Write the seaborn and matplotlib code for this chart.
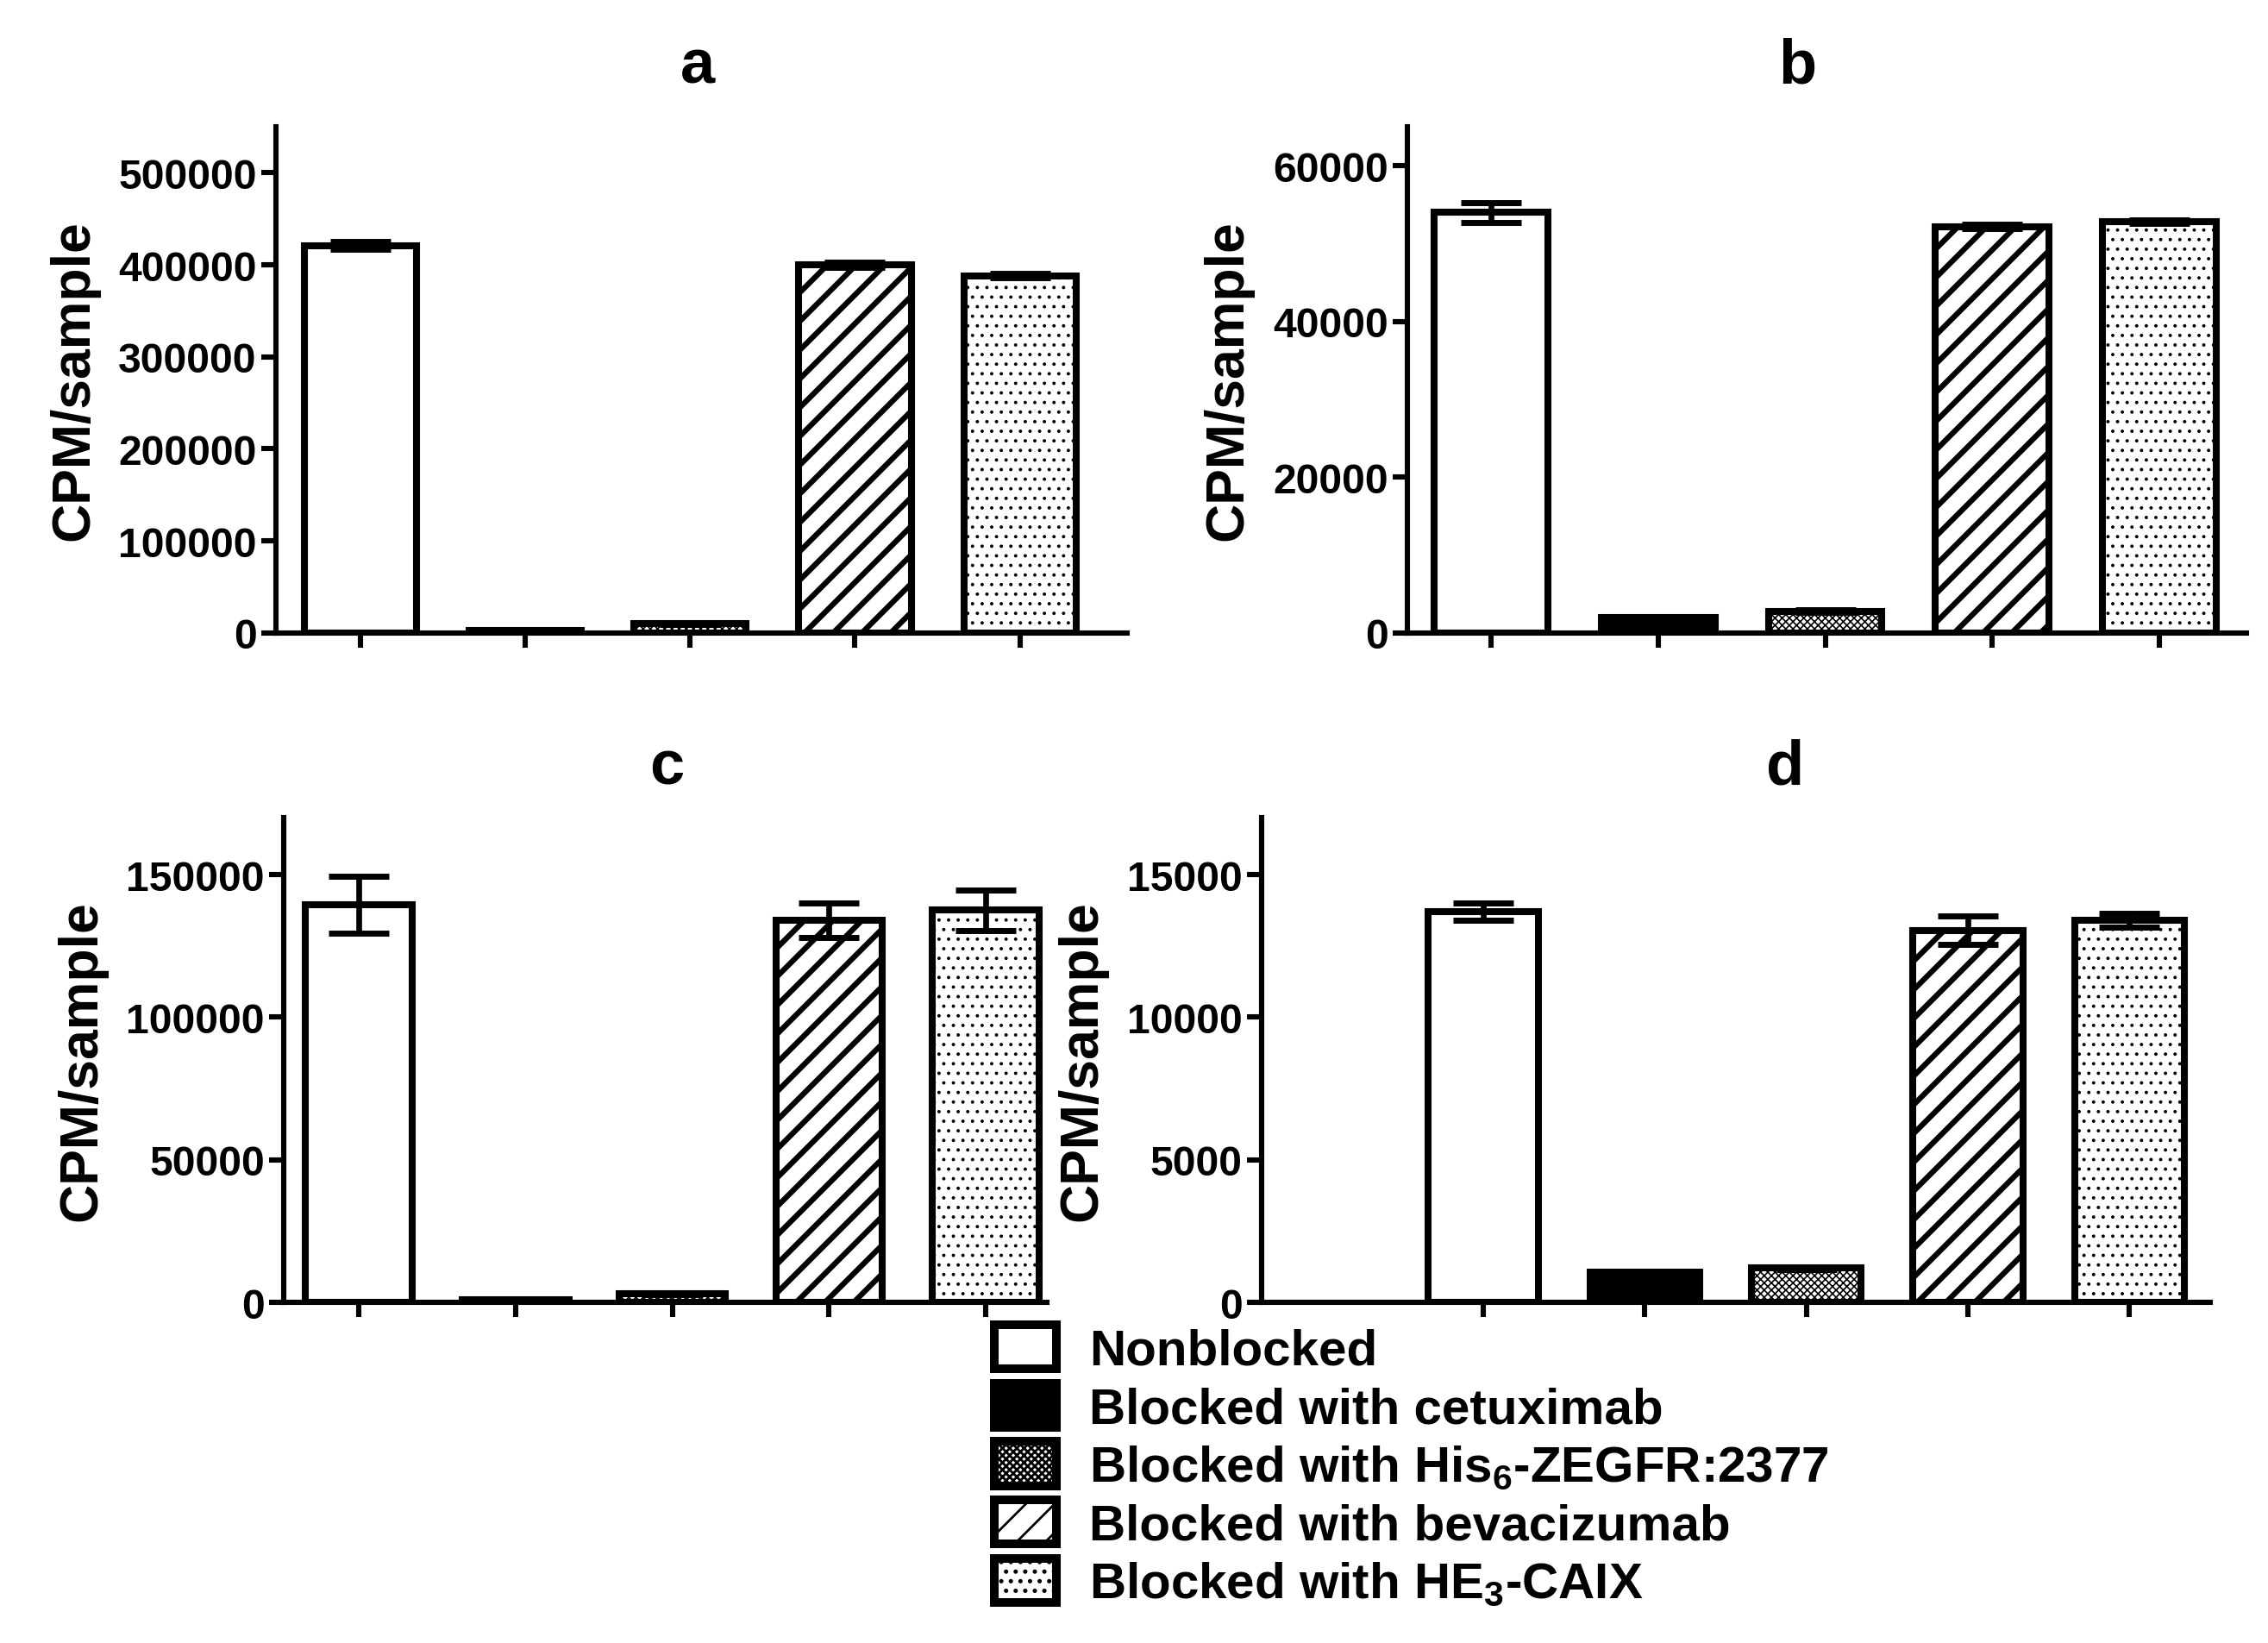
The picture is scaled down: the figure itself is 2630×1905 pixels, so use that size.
import matplotlib
matplotlib.use("Agg")
import matplotlib.pyplot as plt
import matplotlib.patches as mpatches
import seaborn as sns

# --- data ---
groups = ["Nonblocked", "Blocked with cetuximab", "Blocked with His6-ZEGFR:2377",
          "Blocked with bevacizumab", "Blocked with HE3-CAIX"]
legend_labels = ["Nonblocked", "Blocked with cetuximab",
                 r"Blocked with His$_6$-ZEGFR:2377",
                 "Blocked with bevacizumab", r"Blocked with HE$_3$-CAIX"]

vals_a = [421000, 2500, 10000, 400000, 388000]
errs_a = [4000, 500, 1000, 2500, 2500]
vals_b = [54000, 2000, 2800, 52200, 52800]
errs_b = [1300, 100, 150, 300, 250]
vals_c = [139500, 1000, 3000, 134000, 137500]
errs_c = [10000, 200, 300, 6000, 7000]
vals_d = [13700, 1050, 1200, 13050, 13400]
errs_d = [300, 30, 40, 500, 250]

ticks_a = [0, 100000, 200000, 300000, 400000, 500000]
ticks_b = [0, 20000, 40000, 60000]
ticks_c = [0, 50000, 100000, 150000]
ticks_d = [0, 5000, 10000, 15000]

titles = ["a", "b", "c", "d"]

# styling
faces = ["white", "black", "white", "white", "white"]
hatches = [None, None, "xxxxxxxx", "//", "..."]
hatch_lw = [1.0, 1.0, 0.6, 2.3, 0.6]

sns.set_style("ticks")
plt.rcParams["font.family"] = ["Liberation Sans", "DejaVu Sans"]
plt.rcParams["font.weight"] = "bold"
plt.rcParams["mathtext.fontset"] = "custom"
plt.rcParams["mathtext.rm"] = "Liberation Sans:bold"
plt.rcParams["mathtext.it"] = "Liberation Sans:bold"
plt.rcParams["mathtext.bf"] = "Liberation Sans:bold"
plt.rcParams["axes.linewidth"] = 2.2
plt.rcParams["axes.edgecolor"] = "black"
plt.rcParams["axes.labelcolor"] = "black"
plt.rcParams["text.color"] = "black"
plt.rcParams["xtick.color"] = "black"
plt.rcParams["ytick.color"] = "black"
plt.rcParams["hatch.color"] = "black"

fig = plt.figure(figsize=(2630 / 200, 1906 / 200), dpi=200)

boxes = [
    [0.1217, 0.6144, 0.3753, 0.3080],
    [0.6205, 0.6144, 0.3700, 0.3080],
    [0.1251, 0.2072, 0.3365, 0.2949],
    [0.5563, 0.2072, 0.4183, 0.2949],
]
ylims = [550000, 65000, 170000, 17000]
xlims = [(-0.51, 4.65), (-0.5, 4.52), (-0.48, 4.39), (-1.37, 4.5)]
title_pos = [(0.3076, 0.9496), (0.7924, 0.9496), (0.294, 0.5226), (0.787, 0.5226)]

panels = [(vals_a, errs_a, ticks_a), (vals_b, errs_b, ticks_b),
          (vals_c, errs_c, ticks_c), (vals_d, errs_d, ticks_d)]

palette = dict(zip(groups, faces))

for i, (vals, errs, ticks) in enumerate(panels):
    ax = fig.add_axes(boxes[i])
    sns.barplot(x=groups, y=vals, hue=groups, palette=palette, legend=False,
                order=groups, hue_order=groups, width=0.68,
                edgecolor="black", linewidth=2.9, saturation=1, ax=ax)
    for j, bar in enumerate(ax.patches):
        if hatches[j]:
            bar.set_hatch(hatches[j])
            if hasattr(bar, "set_hatch_linewidth"):
                bar.set_hatch_linewidth(hatch_lw[j])
    ax.errorbar(x=list(range(len(groups))), y=vals, yerr=errs, fmt="none",
                ecolor="black", elinewidth=2.4, capsize=12.5, capthick=2.5, zorder=5)
    ax.set_ylim(0, ylims[i])
    ax.set_xlim(*xlims[i])
    ax.set_yticks(ticks)
    ax.set_yticklabels([str(t) for t in ticks])
    ax.set_xticks(range(len(groups)))
    ax.set_xticklabels([])
    ax.tick_params(axis="both", direction="out", length=6, width=2.2,
                   labelsize=17.3, pad=2)
    ax.set_ylabel("CPM/sample", fontsize=22.5, fontweight="bold", labelpad=8)
    ax.set_xlabel("")
    sns.despine(ax=ax)
    fig.text(title_pos[i][0], title_pos[i][1], titles[i], fontsize=26,
             fontweight="bold", ha="center", va="baseline")

handles = []
for j in range(len(groups)):
    p = mpatches.Patch(facecolor=faces[j], edgecolor="black", linewidth=3.6,
                       hatch=hatches[j], label=legend_labels[j])
    if hasattr(p, "set_hatch_linewidth"):
        p.set_hatch_linewidth(hatch_lw[j])
    handles.append(p)

fig.legend(handles=handles, loc="upper left",
           bbox_to_anchor=(1153 / 2630, 1 - 1537 / 1906),
           frameon=False, handlelength=1.24, handleheight=0.98,
           handletextpad=0.64, labelspacing=0.17, borderpad=0, borderaxespad=0,
           prop={"weight": "bold", "size": 21})

fig.savefig("out.png", dpi=200)
